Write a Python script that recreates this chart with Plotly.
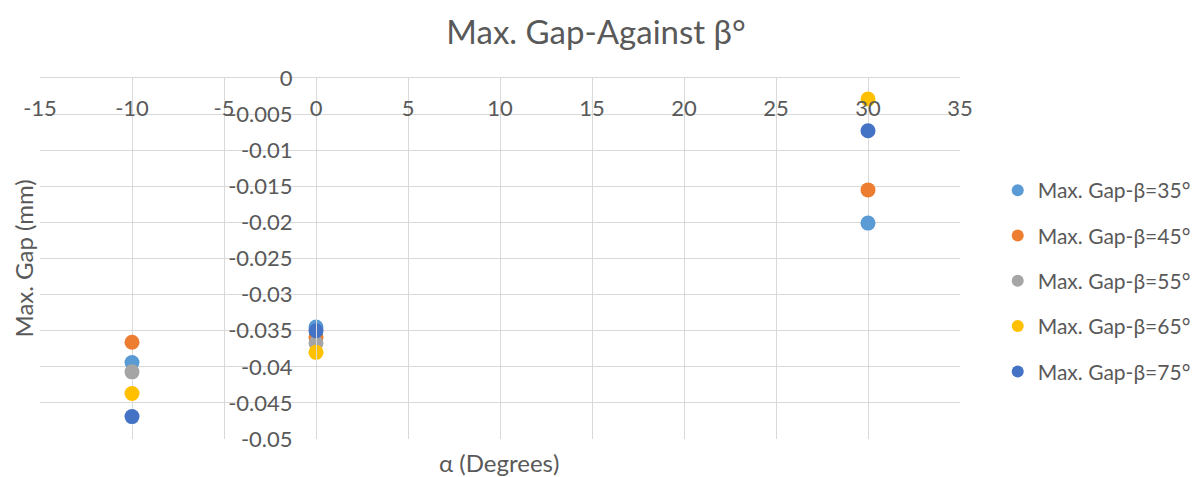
import plotly.graph_objects as go

# ---- data ----
alpha_values = [-10, 0, 30]
series_names = ["Max. Gap-β=35°", "Max. Gap-β=45°", "Max. Gap-β=55°", "Max. Gap-β=65°", "Max. Gap-β=75°"]
gap_b35 = [-0.0394, -0.0345, -0.0201]
gap_b45 = [-0.0366, -0.0359, -0.0155]
gap_b55 = [-0.0407, -0.0367, None]
gap_b65 = [-0.0437, -0.0380, -0.0029]
gap_b75 = [-0.0469, -0.0350, -0.0073]
series_values = [gap_b35, gap_b45, gap_b55, gap_b65, gap_b75]
colors = ["#5B9BD5", "#ED7D31", "#A5A5A5", "#FFC000", "#4472C4"]

x_tickvals = [-15, -10, -5, 0, 5, 10, 15, 20, 25, 30, 35]
x_ticktext = ["-15", "-10", "-5", "0", "5", "10", "15", "20", "25", "30", "35"]
y_tickvals = [0, -0.005, -0.01, -0.015, -0.02, -0.025, -0.03, -0.035, -0.04, -0.045, -0.05]
y_ticktext = ["0", "-0.005", "-0.01", "-0.015", "-0.02", "-0.025", "-0.03", "-0.035", "-0.04", "-0.045", "-0.05"]

FONT = "Lato, 'Open Sans', sans-serif"
TXT = "#595959"
GRID = "#D9D9D9"

fig = go.Figure()
for name, vals, col in zip(series_names, series_values, colors):
    fig.add_trace(go.Scatter(
        x=alpha_values, y=vals, mode="markers", name=name, legendgroup=name,
        marker=dict(color=col, size=15),
    ))

# the page body has an 8px margin, so margins compensate for it
fig.update_layout(
    width=1200, height=477,
    paper_bgcolor="white", plot_bgcolor="white",
    margin=dict(l=32, r=244, t=70, b=46),
    font=dict(family=FONT, color=TXT, size=22),
    title=dict(text="Max. Gap-Against β°", x=0.49, xanchor="center", y=0.948, yanchor="middle",
               font=dict(size=33, color=TXT, family=FONT)),
    xaxis=dict(range=[-15, 35], tickvals=x_tickvals, ticktext=x_ticktext,
               side="top", ticklabelposition="inside", ticklabeloverflow="allow",
               ticklabelstandoff=24,
               showgrid=True, gridcolor=GRID, gridwidth=1,
               zeroline=True, zerolinecolor=GRID, zerolinewidth=1,
               showline=True, linecolor=GRID, linewidth=1,
               tickfont=dict(size=22, color=TXT)),
    yaxis=dict(range=[-0.05, 0], tickvals=y_tickvals, ticktext=y_ticktext,
               anchor="free", position=0.3,
               showgrid=True, gridcolor=GRID, gridwidth=1,
               zeroline=True, zerolinecolor=GRID, zerolinewidth=1,
               showline=True, linecolor=GRID, linewidth=1,
               ticklabelstandoff=19,
               tickfont=dict(size=22, color=TXT)),
    legend=dict(x=1.041, xanchor="left", y=0.745, yanchor="top",
                font=dict(size=21, color=TXT), tracegroupgap=15,
                itemsizing="constant", bgcolor="rgba(0,0,0,0)"),
    annotations=[
        dict(text="Max. Gap (mm)", xref="paper", yref="paper", x=-0.019, y=0.4986,
             xanchor="center", yanchor="middle", textangle=-90, showarrow=False,
             font=dict(size=24, color=TXT, family=FONT)),
        dict(text="α (Degrees)", xref="paper", yref="paper", x=0.499, y=0, yshift=-23,
             xanchor="center", yanchor="middle", showarrow=False,
             font=dict(size=24, color=TXT, family=FONT)),
    ],
)

fig.write_html("out.html")
